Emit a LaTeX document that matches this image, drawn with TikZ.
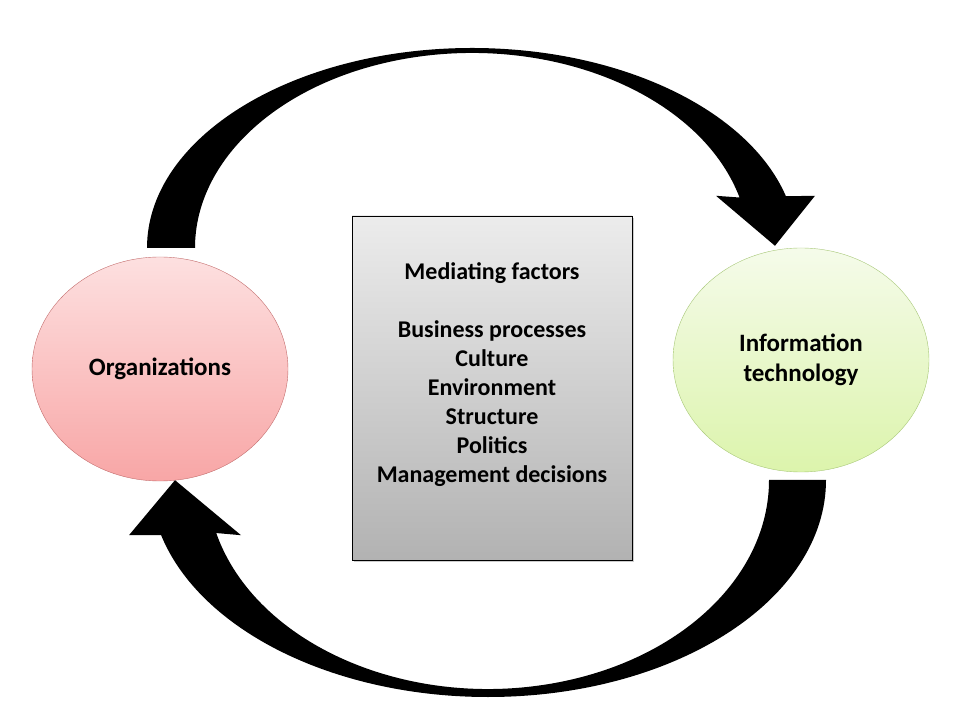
\documentclass[tikz,border=0pt]{standalone}
\usepackage{fontspec}
\setmainfont{Carlito}
\usepackage{tikz}
\usetikzlibrary{shapes.geometric,shadows,calc}

\definecolor{orgtop}{RGB}{253,224,224}
\definecolor{orgbot}{RGB}{248,166,166}
\definecolor{orgline}{RGB}{196,110,110}
\definecolor{ittop}{RGB}{245,251,234}
\definecolor{itbot}{RGB}{220,244,172}
\definecolor{itline}{RGB}{168,200,120}
\definecolor{boxtop}{RGB}{236,236,236}
\definecolor{boxbot}{RGB}{178,178,178}

\begin{document}
\begin{tikzpicture}[x=1pt,y=1pt]
        \tikzstyle{every node}=[font=\bfseries\fontsize{24}{29}\selectfont, align=center];
        \tikzstyle{orgcircle}=[ellipse, draw=orgline, top color=orgtop, bottom color=orgbot, minimum width=256pt, minimum height=224pt, font=\bfseries\fontsize{25}{30}\selectfont];
        \tikzstyle{itcircle}=[ellipse, draw=itline, top color=ittop, bottom color=itbot, minimum width=256pt, minimum height=224pt, font=\bfseries\fontsize{25}{30}\selectfont];
        \tikzstyle{factorbox}=[rectangle, draw=black, top color=boxtop, bottom color=boxbot, minimum width=280pt, minimum height=344pt, drop shadow={shadow xshift=2pt, shadow yshift=-2pt, opacity=0.4}];
        \useasboundingbox (0,0) rectangle (960,720);
        \fill[white] (0,0) rectangle (960,720);

        \node[orgcircle] (org) at (160,351) {Organizations};
        \node[itcircle] (it) at (801,360) {Information\\technology};
        \node[factorbox] (box) at (492,332) {};
        \node (factors) at ([yshift=13pt]box.center) {Mediating factors\\[29pt]
            Business processes\\ Culture\\ Environment\\ Structure\\ Politics\\ Management decisions};

        % organizations -> information technology
        \coordinate (topmid) at (472,472);
        \coordinate (ittip) at ([xshift=-26pt,yshift=2pt]it.north);
        \fill[black] ($(topmid)+(180:325 and 200)$)
            arc[start angle=180, end angle=15, x radius=325, y radius=200]
            -- ([xshift=40pt,yshift=50pt]ittip) -- (ittip) -- ([xshift=-59pt,yshift=50pt]ittip)
            -- ($(topmid)+(15:277 and 195)$)
            arc[start angle=15, end angle=180, x radius=277, y radius=195] -- cycle;

        % information technology -> organizations
        \coordinate (botmid) at (488,240);
        \coordinate (orgtip) at ([xshift=15pt,yshift=1pt]org.south);
        \fill[black] ($(botmid)+(0:338 and 217)$)
            arc[start angle=0, end angle=-165.3, x radius=338, y radius=217]
            -- ([xshift=-46pt,yshift=-55pt]orgtip) -- (orgtip) -- ([xshift=66pt,yshift=-55pt]orgtip)
            -- ($(botmid)+(-165.3:281 and 209)$)
            arc[start angle=-165.3, end angle=0, x radius=281, y radius=209] -- cycle;
\end{tikzpicture}
\end{document}
